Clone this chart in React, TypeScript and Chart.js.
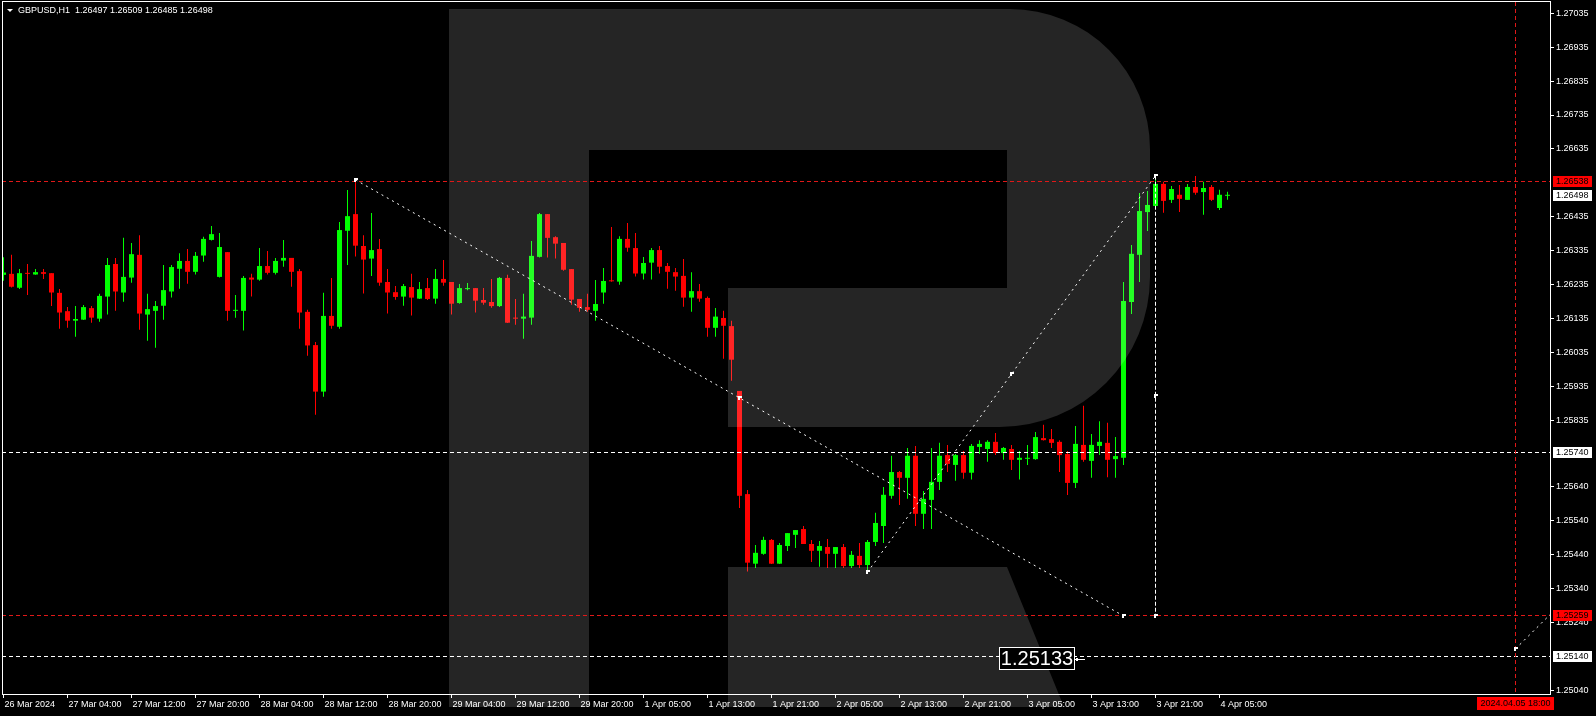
import React, { useEffect, useRef } from 'react';
import { Chart, registerables } from 'chart.js';

Chart.register(...registerables);

const FONT = '"Liberation Sans", Arial, sans-serif';
const BULL = '#00ff00';
const BEAR = '#ff0000';
const RED_LINE = '#e01818';

const symbolText = 'GBPUSD,H1';

const opens = [
  1.26264, 1.26267, 1.26226, 1.26269, 1.26265, 1.26272, 1.26269, 1.26211, 1.26157, 1.26129,
  1.26132, 1.26166, 1.26135, 1.26200, 1.26296, 1.26212, 1.26256, 1.26323, 1.26147, 1.26158,
  1.26173, 1.26215, 1.26282, 1.26305, 1.26273, 1.26321, 1.26367, 1.26258, 1.26331, 1.26158,
  1.26158, 1.26256, 1.26250, 1.26290, 1.26270, 1.26306, 1.26314, 1.26275, 1.26155, 1.26057,
  1.25920, 1.26143, 1.26111, 1.26394, 1.26443, 1.26349, 1.26312, 1.26340, 1.26243, 1.26213,
  1.26200, 1.26228, 1.26194, 1.26225, 1.26194, 1.26252, 1.26243, 1.26181, 1.26222, 1.26225,
  1.26190, 1.26184, 1.26172, 1.26255, 1.26138, 1.26135, 1.26138, 1.26317, 1.26443, 1.26375,
  1.26358, 1.26281, 1.26193, 1.26169, 1.26158, 1.26212, 1.26247, 1.26244, 1.26370, 1.26343,
  1.26268, 1.26300, 1.26337, 1.26290, 1.26272, 1.26261, 1.26197, 1.26216, 1.26196, 1.26108,
  1.26137, 1.26113, 1.25922, 1.25618, 1.25413, 1.25442, 1.25483, 1.25413, 1.25465, 1.25498,
  1.25515, 1.25471, 1.25451, 1.25462, 1.25442, 1.25462, 1.25406, 1.25436, 1.25409, 1.25477,
  1.25524, 1.25613, 1.25683, 1.25666, 1.25731, 1.25560, 1.25601, 1.25654, 1.25733, 1.25704,
  1.25733, 1.25681, 1.25757, 1.25751, 1.25772, 1.25739, 1.25751, 1.25719, 1.25722, 1.25721,
  1.25783, 1.25780, 1.25772, 1.25736, 1.25651, 1.25763, 1.25716, 1.25760, 1.25769, 1.25721,
  1.25725, 1.26184, 1.26323, 1.26449, 1.26467, 1.26532, 1.26485, 1.26500, 1.26485, 1.26523,
  1.26508, 1.26523, 1.26461, 1.26497,
];

const highs = [
  1.26316, 1.26323, 1.26281, 1.26296, 1.26281, 1.26281, 1.26269, 1.26222, 1.26169, 1.26172,
  1.26175, 1.26172, 1.26208, 1.26314, 1.26314, 1.26373, 1.26358, 1.26381, 1.26208, 1.26187,
  1.26293, 1.26293, 1.26328, 1.26340, 1.26331, 1.26376, 1.26408, 1.26387, 1.26331, 1.26205,
  1.26261, 1.26267, 1.26343, 1.26334, 1.26314, 1.26367, 1.26314, 1.26281, 1.26161, 1.26066,
  1.26211, 1.26255, 1.26420, 1.26514, 1.26544, 1.26381, 1.26446, 1.26370, 1.26281, 1.26231,
  1.26237, 1.26267, 1.26243, 1.26255, 1.26281, 1.26308, 1.26243, 1.26237, 1.26240, 1.26225,
  1.26225, 1.26252, 1.26258, 1.26264, 1.26193, 1.26208, 1.26364, 1.26446, 1.26443, 1.26378,
  1.26358, 1.26281, 1.26193, 1.26208, 1.26249, 1.26284, 1.26405, 1.26378, 1.26417, 1.26387,
  1.26317, 1.26343, 1.26349, 1.26299, 1.26284, 1.26311, 1.26272, 1.26237, 1.26200, 1.26166,
  1.26158, 1.26129, 1.25922, 1.25630, 1.25468, 1.25492, 1.25486, 1.25474, 1.25503, 1.25512,
  1.25524, 1.25483, 1.25480, 1.25486, 1.25462, 1.25471, 1.25450, 1.25474, 1.25483, 1.25563,
  1.25639, 1.25731, 1.25686, 1.25754, 1.25760, 1.25627, 1.25754, 1.25769, 1.25763, 1.25736,
  1.25745, 1.25766, 1.25777, 1.25777, 1.25798, 1.25757, 1.25763, 1.25745, 1.25763, 1.25801,
  1.25822, 1.25810, 1.25777, 1.25745, 1.25819, 1.25878, 1.25795, 1.25833, 1.25828, 1.25786,
  1.26243, 1.26352, 1.26505, 1.26511, 1.26558, 1.26538, 1.26526, 1.26529, 1.26532, 1.26555,
  1.26538, 1.26529, 1.26515, 1.26509,
];

const lows = [
  1.26247, 1.26227, 1.26222, 1.26205, 1.26264, 1.26252, 1.26172, 1.26105, 1.26108, 1.26082,
  1.26131, 1.26123, 1.26126, 1.26147, 1.26158, 1.26185, 1.26241, 1.26102, 1.26070, 1.26049,
  1.26132, 1.26197, 1.26223, 1.26238, 1.26265, 1.26303, 1.26365, 1.26256, 1.26129, 1.26138,
  1.26100, 1.26200, 1.26247, 1.26265, 1.26265, 1.26288, 1.26229, 1.26105, 1.26026, 1.25852,
  1.25905, 1.26105, 1.26105, 1.26293, 1.26318, 1.26209, 1.26261, 1.26232, 1.26150, 1.26191,
  1.26173, 1.26144, 1.26193, 1.26190, 1.26179, 1.26232, 1.26147, 1.26179, 1.26219, 1.26153,
  1.26176, 1.26167, 1.26169, 1.26122, 1.26117, 1.26076, 1.26117, 1.26315, 1.26315, 1.26312,
  1.26276, 1.26176, 1.26155, 1.26155, 1.26129, 1.26179, 1.26244, 1.26235, 1.26332, 1.26259,
  1.26250, 1.26250, 1.26268, 1.26223, 1.26217, 1.26170, 1.26155, 1.26185, 1.26082, 1.26082,
  1.26017, 1.25952, 1.25577, 1.25390, 1.25400, 1.25439, 1.25412, 1.25412, 1.25450, 1.25459,
  1.25471, 1.25418, 1.25404, 1.25400, 1.25400, 1.25400, 1.25400, 1.25400, 1.25390, 1.25465,
  1.25474, 1.25604, 1.25586, 1.25604, 1.25524, 1.25515, 1.25515, 1.25630, 1.25683, 1.25657,
  1.25663, 1.25661, 1.25736, 1.25713, 1.25733, 1.25719, 1.25689, 1.25661, 1.25704, 1.25719,
  1.25776, 1.25754, 1.25683, 1.25615, 1.25636, 1.25713, 1.25666, 1.25733, 1.25668, 1.25666,
  1.25704, 1.26149, 1.26243, 1.26393, 1.26462, 1.26447, 1.26476, 1.26449, 1.26485, 1.26500,
  1.26441, 1.26482, 1.26455, 1.26485,
];

const closes = [
  1.26271, 1.26229, 1.26269, 1.26267, 1.26272, 1.26267, 1.26212, 1.26153, 1.26129, 1.26134,
  1.26169, 1.26138, 1.26202, 1.26293, 1.26215, 1.26258, 1.26325, 1.26150, 1.26163, 1.26172,
  1.26219, 1.26287, 1.26305, 1.26273, 1.26320, 1.26370, 1.26384, 1.26346, 1.26158, 1.26160,
  1.26255, 1.26250, 1.26290, 1.26270, 1.26305, 1.26314, 1.26273, 1.26153, 1.26056, 1.25920,
  1.26143, 1.26114, 1.26396, 1.26437, 1.26350, 1.26309, 1.26337, 1.26241, 1.26212, 1.26199,
  1.26231, 1.26197, 1.26222, 1.26193, 1.26252, 1.26241, 1.26179, 1.26225, 1.26225, 1.26188,
  1.26182, 1.26172, 1.26255, 1.26123, 1.26135, 1.26141, 1.26320, 1.26443, 1.26373, 1.26356,
  1.26279, 1.26191, 1.26167, 1.26161, 1.26178, 1.26246, 1.26245, 1.26370, 1.26344, 1.26268,
  1.26299, 1.26337, 1.26288, 1.26273, 1.26259, 1.26197, 1.26216, 1.26194, 1.26108, 1.26141,
  1.26114, 1.26014, 1.25613, 1.25416, 1.25445, 1.25483, 1.25413, 1.25468, 1.25503, 1.25512,
  1.25471, 1.25451, 1.25465, 1.25442, 1.25462, 1.25406, 1.25439, 1.25409, 1.25477, 1.25533,
  1.25616, 1.25683, 1.25666, 1.25731, 1.25560, 1.25604, 1.25654, 1.25731, 1.25707, 1.25733,
  1.25681, 1.25760, 1.25766, 1.25772, 1.25739, 1.25754, 1.25719, 1.25725, 1.25724, 1.25786,
  1.25777, 1.25769, 1.25733, 1.25651, 1.25766, 1.25719, 1.25763, 1.25772, 1.25719, 1.25730,
  1.26187, 1.26326, 1.26452, 1.26470, 1.26532, 1.26482, 1.26517, 1.26488, 1.26523, 1.26506,
  1.26520, 1.26485, 1.26500, 1.26498,
];

const xTickBars = [0, 8, 16, 24, 32, 40, 48, 56, 64, 72, 80, 88, 96, 104, 112, 120, 128, 136, 144, 152];
const xTickLabels = [
  '26 Mar 2024', '27 Mar 04:00', '27 Mar 12:00', '27 Mar 20:00', '28 Mar 04:00', '28 Mar 12:00',
  '28 Mar 20:00', '29 Mar 04:00', '29 Mar 12:00', '29 Mar 20:00', '1 Apr 05:00', '1 Apr 13:00',
  '1 Apr 21:00', '2 Apr 05:00', '2 Apr 13:00', '2 Apr 21:00', '3 Apr 05:00', '3 Apr 13:00',
  '3 Apr 21:00', '4 Apr 05:00',
];
const yTickValues = [
  1.27035, 1.26935, 1.26835, 1.26735, 1.26635, 1.26435, 1.26335, 1.26235, 1.26135, 1.26035,
  1.25935, 1.25835, 1.2564, 1.2554, 1.2544, 1.2534, 1.2524, 1.2504,
];

const xMin = -0.0625;
const xMax = 193.3125;
const yMin = 1.25029;
const yMax = 1.27068;

// horizontal levels
const levelPrices = [1.26538, 1.2574, 1.25259, 1.2514];
const levelColors = [RED_LINE, '#ffffff', RED_LINE, '#ffffff'];
// price boxes on the right axis
const boxPrices = [1.26538, 1.26498, 1.2574, 1.25259, 1.2514];
const boxFills = ['#ff0000', '#ffffff', '#ffffff', '#ff0000', '#ffffff'];
// trend lines
const trendStartBar = [44, 108, 189];
const trendStartPrice = [1.26544, 1.25388, 1.25162];
const trendEndBar = [140, 144, 194];
const trendEndPrice = [1.25259, 1.26556, 1.25279];
// vertical projection
const projBar = 144;
const projTop = 1.26556;
const projBottom = 1.25259;
// time line
const timeLineBar = 189;
const timeLineLabel = '2024.04.05 18:00';
// note label
const noteBar = 134.4;
const notePrice = 1.25133;
const noteText = '1.25133';

const mtPlugin = {
  id: 'mtOverlay',
  beforeDraw(chart: any) {
    const { ctx, width, height } = chart;
    ctx.save();
    ctx.fillStyle = '#000';
    ctx.fillRect(0, 0, width, height);
    ctx.restore();
  },
  afterDatasetsDraw(chart: any) {
    const ctx = chart.ctx as CanvasRenderingContext2D;
    const ca = chart.chartArea;
    const xs = chart.scales.x;
    const ys = chart.scales.y;
    const px = (b: number) => xs.getPixelForValue(b);
    const py = (p: number) => ys.getPixelForValue(p);
    const crisp = (v: number) => Math.floor(v) + 0.5;

    // watermark logo
    ctx.save();
    ctx.fillStyle = 'rgba(255,255,255,0.145)';
    ctx.beginPath();
    ctx.moveTo(449, 9);
    ctx.lineTo(1010, 9);
    ctx.arcTo(1150, 9, 1150, 149, 140);
    ctx.lineTo(1150, 277);
    ctx.arcTo(1150, 427, 1000, 427, 150);
    ctx.lineTo(728, 427);
    ctx.lineTo(728, 288);
    ctx.lineTo(1007, 288);
    ctx.lineTo(1007, 150);
    ctx.lineTo(589, 150);
    ctx.lineTo(589, 707);
    ctx.lineTo(449, 707);
    ctx.closePath();
    ctx.moveTo(728, 567);
    ctx.lineTo(1007, 567);
    ctx.lineTo(1064, 707);
    ctx.lineTo(728, 707);
    ctx.closePath();
    ctx.fill();
    ctx.restore();

    // lines inside plot
    ctx.save();
    ctx.beginPath();
    ctx.rect(ca.left - 1, ca.top, ca.right - ca.left + 1, ca.bottom - ca.top);
    ctx.clip();
    ctx.lineWidth = 1;
    levelPrices.forEach((p, k) => {
      const y = crisp(py(p));
      ctx.strokeStyle = levelColors[k];
      ctx.setLineDash([4, 3]);
      ctx.beginPath();
      ctx.moveTo(ca.left - 1, y);
      ctx.lineTo(ca.right, y);
      ctx.stroke();
    });
    const tx = crisp(px(timeLineBar));
    ctx.strokeStyle = RED_LINE;
    ctx.setLineDash([4, 3]);
    ctx.beginPath();
    ctx.moveTo(tx, ca.top);
    ctx.lineTo(tx, ca.bottom);
    ctx.stroke();

    const vx = crisp(px(projBar));
    ctx.strokeStyle = '#ffffff';
    ctx.setLineDash([4, 2]);
    ctx.beginPath();
    ctx.moveTo(vx, py(projTop));
    ctx.lineTo(vx, py(projBottom));
    ctx.stroke();

    ctx.setLineDash([2, 4]);
    trendStartBar.forEach((b, k) => {
      ctx.beginPath();
      ctx.moveTo(px(b), py(trendStartPrice[k]));
      ctx.lineTo(px(trendEndBar[k]), py(trendEndPrice[k]));
      ctx.stroke();
    });
    ctx.setLineDash([]);

    const mark = (x: number, y: number) => {
      const X = Math.round(x);
      const Y = Math.round(y);
      ctx.fillStyle = '#ffffff';
      ctx.fillRect(X - 2, Y - 2, 4, 2);
      ctx.fillRect(X - 2, Y, 2, 2);
    };
    for (let k = 0; k < 2; k++) {
      mark(px(trendStartBar[k]), py(trendStartPrice[k]));
      mark(px((trendStartBar[k] + trendEndBar[k]) / 2), py((trendStartPrice[k] + trendEndPrice[k]) / 2));
      mark(px(trendEndBar[k]), py(trendEndPrice[k]));
    }
    mark(px(projBar), py((projTop + projBottom) / 2));
    mark(px(projBar), py(projBottom));
    mark(px(trendStartBar[2]), py(trendStartPrice[2]));
    ctx.restore();

    // note label
    ctx.save();
    const nx = px(noteBar);
    const ny = py(notePrice);
    ctx.font = `20px ${FONT}`;
    const ntw = ctx.measureText(noteText).width;
    const nbw = Math.round(ntw + 4);
    const nbh = 23;
    const nbx = Math.round(nx - 4 - nbw);
    const nby = Math.round(ny - nbh / 2);
    ctx.fillStyle = '#000';
    ctx.fillRect(nbx, nby, nbw, nbh);
    ctx.strokeStyle = '#ffffff';
    ctx.lineWidth = 1;
    ctx.strokeRect(nbx + 0.5, nby + 0.5, nbw - 1, nbh - 1);
    ctx.fillStyle = '#ffffff';
    ctx.textAlign = 'center';
    ctx.textBaseline = 'middle';
    ctx.fillText(noteText, nbx + nbw / 2, nby + nbh / 2 + 1);
    const ay = Math.round(ny);
    ctx.fillRect(nbx + nbw, ay, 10, 1);
    ctx.fillRect(nbx + nbw + 1, ay - 1, 2, 3);
    ctx.restore();

    // right axis price boxes
    ctx.save();
    ctx.font = `9px ${FONT}`;
    ctx.textAlign = 'left';
    ctx.textBaseline = 'middle';
    boxPrices.forEach((p, k) => {
      const y = py(p);
      const top = Math.round(y - 5.5);
      ctx.fillStyle = boxFills[k];
      ctx.fillRect(ca.right + 3, top, 39, 11);
      ctx.fillStyle = '#000';
      ctx.fillText(p.toFixed(5), ca.right + 6, top + 6);
    });
    // time box
    const tcx = px(timeLineBar);
    const tbw = Math.round(ctx.measureText(timeLineLabel).width + 7);
    ctx.fillStyle = '#ff0000';
    ctx.fillRect(Math.round(tcx - tbw / 2), 697, tbw, 13);
    ctx.fillStyle = '#000';
    ctx.textAlign = 'center';
    ctx.fillText(timeLineLabel, tcx, 704);

    // frame
    ctx.strokeStyle = '#ffffff';
    ctx.lineWidth = 1;
    ctx.strokeRect(2.5, 1.5, ca.right - 2, ca.bottom - 1);

    // header
    const n = opens.length - 1;
    const header = `${symbolText}  ${opens[n].toFixed(5)} ${highs[n].toFixed(5)} ${lows[n].toFixed(5)} ${closes[n].toFixed(5)}`;
    ctx.fillStyle = '#ffffff';
    ctx.beginPath();
    ctx.moveTo(7, 9);
    ctx.lineTo(13, 9);
    ctx.lineTo(10, 12);
    ctx.closePath();
    ctx.fill();
    ctx.textAlign = 'left';
    ctx.fillText(header, 18, 11);
    ctx.restore();
  },
};

export default function App() {
  const ref = useRef<HTMLCanvasElement>(null);
  useEffect(() => {
    document.body.style.margin = '0';
    document.body.style.background = '#000';
    const canvas = ref.current as HTMLCanvasElement;
    const idx = opens.map((_, i) => i);
    const colors = idx.map((i) => (closes[i] >= opens[i] ? BULL : BEAR));
    const wickData = idx.map((i) => ({ x: i, y: [lows[i], highs[i]] }));
    const bodyData = idx.map((i) => ({
      x: i,
      y: [Math.min(opens[i], closes[i]), Math.max(opens[i], closes[i])],
    }));
    const tickFont = { family: FONT, size: 9, lineHeight: 1.2 };
    const chart = new Chart(canvas, {
      type: 'bar',
      data: {
        datasets: [
          {
            data: wickData as any,
            backgroundColor: colors,
            barThickness: 1,
            grouped: false,
            borderWidth: 0,
            inflateAmount: 0,
            clip: 0,
            order: 2,
          } as any,
          {
            data: bodyData as any,
            backgroundColor: colors,
            barThickness: 5,
            grouped: false,
            borderWidth: 0,
            inflateAmount: 0,
            minBarLength: 1,
            clip: 0,
            order: 1,
          } as any,
        ],
      },
      options: {
        responsive: false,
        animation: false,
        devicePixelRatio: 1,
        events: [],
        layout: { padding: { left: 3, top: 2, right: 0, bottom: 0 } },
        plugins: { legend: { display: false }, tooltip: { enabled: false } },
        scales: {
          x: {
            type: 'linear',
            min: xMin,
            max: xMax,
            offset: false,
            grid: {
              display: true,
              drawOnChartArea: false,
              drawTicks: true,
              tickLength: 4,
              color: '#ffffff',
              tickColor: '#ffffff',
              offset: false,
            },
            border: { display: false },
            afterBuildTicks: (s: any) => {
              s.ticks = xTickBars.map((v) => ({ value: v }));
            },
            afterFit: (s: any) => {
              s.height = 22;
              s.paddingLeft = 0;
              s.paddingRight = 0;
            },
            ticks: {
              autoSkip: false,
              maxRotation: 0,
              minRotation: 0,
              align: 'start',
              padding: 1,
              labelOffset: 1,
              color: '#ffffff',
              font: tickFont,
              callback: (_v: any, i: number) => xTickLabels[i] ?? '',
            },
          },
          y: {
            type: 'linear',
            position: 'right',
            min: yMin,
            max: yMax,
            beginAtZero: false,
            grid: {
              display: true,
              drawOnChartArea: false,
              drawTicks: true,
              tickLength: 4,
              color: '#ffffff',
              tickColor: '#ffffff',
            },
            border: { display: false },
            afterBuildTicks: (s: any) => {
              s.ticks = yTickValues.map((v) => ({ value: v }));
            },
            afterFit: (s: any) => {
              s.width = 46;
              s.paddingTop = 0;
              s.paddingBottom = 0;
            },
            ticks: {
              autoSkip: false,
              padding: 2,
              color: '#ffffff',
              font: tickFont,
              callback: (v: any) => Number(v).toFixed(5),
            },
          },
        },
      } as any,
      plugins: [mtPlugin],
    });
    return () => chart.destroy();
  }, []);
  return (
    <div
      style={{
        position: 'fixed',
        left: 0,
        top: 0,
        width: 1596,
        height: 716,
        background: '#000',
        overflow: 'hidden',
      }}
    >
      <canvas ref={ref} width={1596} height={716} style={{ display: 'block', width: 1596, height: 716 }} />
    </div>
  );
}
